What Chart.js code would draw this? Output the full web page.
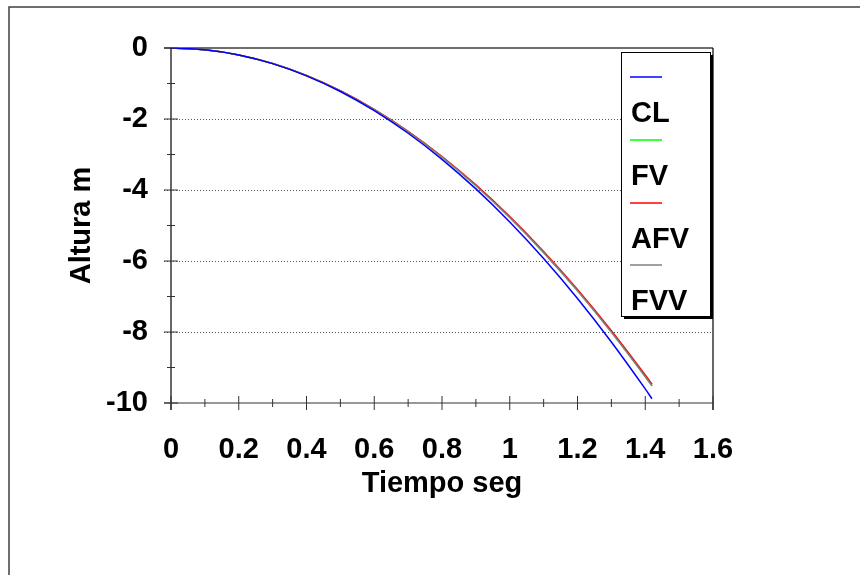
<!DOCTYPE html>
<html lang="es">
<head>
<meta charset="utf-8">
<title>Altura vs tiempo</title>
<script src="https://cdn.jsdelivr.net/npm/chart.js@4.4.1/dist/chart.umd.min.js"></script>
<style>
  html, body { margin:0; padding:0; background:#fff; }
  #wrap { width:860px; height:575px; }
</style>
</head>
<body>
<div id="wrap"><canvas id="chart" width="860" height="575"></canvas></div>
<script>
(function(){
  const FONT = "'Liberation Sans', Arial, Helvetica, sans-serif";

  // datos
  const timeSec   = [0, 0.1, 0.2, 0.3, 0.4, 0.5, 0.6, 0.7, 0.8, 0.9, 1.0, 1.1, 1.2, 1.3, 1.4, 1.42];
  const alturaCL  = [0, -0.049, -0.196, -0.441, -0.784, -1.225, -1.764, -2.401, -3.136, -3.969, -4.900, -5.929, -7.056, -8.281, -9.604, -9.881];
  const alturaFV  = [0, -0.049, -0.195, -0.438, -0.776, -1.209, -1.736, -2.357, -3.070, -3.875, -4.771, -5.757, -6.833, -7.997, -9.249, -9.511];
  const alturaAFV = [0, -0.049, -0.195, -0.437, -0.774, -1.205, -1.729, -2.347, -3.056, -3.857, -4.748, -5.730, -6.802, -7.962, -9.210, -9.470];
  const alturaFVV = [0, -0.049, -0.195, -0.438, -0.777, -1.210, -1.738, -2.360, -3.074, -3.880, -4.777, -5.764, -6.841, -8.006, -9.259, -9.521];

  const seriesNames  = ['CL', 'FV', 'AFV', 'FVV'];
  const seriesColors = ['#0000ff', '#00ff00', '#ff0000', '#808080'];
  const seriesOrder  = [0, 3, 2, 1];

  const xTicks = [0, 0.2, 0.4, 0.6, 0.8, 1.0, 1.2, 1.4, 1.6];
  const xTickLabels = ['0', '0.2', '0.4', '0.6', '0.8', '1', '1.2', '1.4', '1.6'];
  const yTicks = [0, -2, -4, -6, -8, -10];
  const yTickLabels = ['0', '-2', '-4', '-6', '-8', '-10'];

  function pts(arr){ return timeSec.map((t,i)=>({x:t, y:arr[i]})); }

  const seriesData = [alturaCL, alturaFV, alturaAFV, alturaFVV];
  const datasets = seriesNames.map((n,i)=>({
    label: n,
    data: pts(seriesData[i]),
    borderColor: seriesColors[i],
    backgroundColor: seriesColors[i],
    order: seriesOrder[i],
    fill: false
  }));

  const boldFont = { family: FONT, size: 29, weight: 'bold' };

  // marco, rejilla punteada y marcas de ejes
  const framePlugin = {
    id: 'frame',
    beforeDatasetsDraw(chart){
      const {ctx, chartArea:a, scales:{y}} = chart;
      ctx.save();
      ctx.strokeStyle = '#404040'; ctx.lineWidth = 1.5;
      ctx.beginPath(); ctx.moveTo(9, 575); ctx.lineTo(9, 7); ctx.lineTo(860, 7); ctx.stroke();
      ctx.strokeStyle = '#555'; ctx.lineWidth = 1; ctx.setLineDash([1,2]);
      yTicks.forEach(v => {
        if (v === yTicks[0] || v === yTicks[yTicks.length-1]) return;
        const py = Math.round(y.getPixelForValue(v)) + 0.5;
        ctx.beginPath(); ctx.moveTo(164, py); ctx.lineTo(a.right, py); ctx.stroke();
      });
      ctx.setLineDash([]);
      ctx.strokeStyle = '#6e6e6e'; ctx.lineWidth = 2;
      ctx.beginPath(); ctx.moveTo(164, a.top); ctx.lineTo(a.right, a.top); ctx.stroke();
      ctx.restore();
    },
    afterDatasetsDraw(chart){
      const {ctx, chartArea:a, scales:{x,y}} = chart;
      ctx.save();
      ctx.strokeStyle = '#000'; ctx.lineWidth = 1.2;
      ctx.beginPath(); ctx.moveTo(a.left, a.top); ctx.lineTo(a.left, a.bottom + 7); ctx.stroke();
      ctx.beginPath(); ctx.moveTo(a.right, a.top); ctx.lineTo(a.right, a.bottom + 7); ctx.stroke();
      ctx.strokeStyle = '#333'; ctx.lineWidth = 1;
      ctx.beginPath(); ctx.moveTo(164, a.bottom); ctx.lineTo(a.right, a.bottom); ctx.stroke();
      // marcas eje y
      for (let i = 0; i < yTicks.length; i++){
        const py = y.getPixelForValue(yTicks[i]);
        ctx.beginPath(); ctx.moveTo(a.left - 7, py); ctx.lineTo(a.left + 7, py); ctx.stroke();
        if (i < yTicks.length - 1){
          const pm = y.getPixelForValue((yTicks[i] + yTicks[i+1]) / 2);
          ctx.beginPath(); ctx.moveTo(a.left - 4, pm); ctx.lineTo(a.left + 4, pm); ctx.stroke();
        }
      }
      // marcas eje x
      for (let i = 0; i < xTicks.length; i++){
        const px = x.getPixelForValue(xTicks[i]);
        ctx.beginPath(); ctx.moveTo(px, a.bottom - 7); ctx.lineTo(px, a.bottom + 7); ctx.stroke();
        if (i < xTicks.length - 1){
          const pm = x.getPixelForValue((xTicks[i] + xTicks[i+1]) / 2);
          ctx.beginPath(); ctx.moveTo(pm, a.bottom - 4); ctx.lineTo(pm, a.bottom + 4); ctx.stroke();
        }
      }
      ctx.restore();
    },
    afterDraw(chart){
      // leyenda estilo Excel: linea arriba, nombre abajo
      const ctx = chart.ctx;
      const bx = 621, by = 52, bw = 89, bh = 264;
      ctx.save();
      ctx.fillStyle = '#000'; ctx.fillRect(bx + 3, by + 3, bw, bh);
      ctx.fillStyle = '#fff'; ctx.fillRect(bx, by, bw, bh);
      ctx.strokeStyle = '#000'; ctx.lineWidth = 1;
      ctx.strokeRect(bx + 0.5, by + 0.5, bw, bh);
      ctx.font = 'bold 29px ' + FONT;
      ctx.textAlign = 'left'; ctx.textBaseline = 'alphabetic';
      seriesNames.forEach((name, i) => {
        const ly = Math.round(77 + i * 62.8);
        ctx.strokeStyle = seriesColors[i]; ctx.lineWidth = 1.5;
        ctx.beginPath(); ctx.moveTo(630, ly); ctx.lineTo(662, ly); ctx.stroke();
        ctx.fillStyle = '#000';
        ctx.fillText(name, 631, ly + 45);
      });
      ctx.restore();
    }
  };

  new Chart(document.getElementById('chart').getContext('2d'), {
    type: 'line',
    data: { datasets },
    options: {
      responsive: false,
      animation: false,
      layout: { padding: { top: 48, right: 147, left: 0, bottom: 0 } },
      plugins: { legend: { display: false }, tooltip: { enabled: false } },
      elements: { point: { radius: 0 }, line: { borderWidth: 1.5, cubicInterpolationMode: 'monotone' } },
      scales: {
        x: {
          type: 'linear', min: 0, max: 1.6,
          afterFit: s => { s.height = 172; },
          afterBuildTicks: s => { s.ticks = xTicks.map(v => ({ value: v })); },
          grid: { display: false, drawTicks: false },
          border: { display: false },
          ticks: { padding: 30, color: '#000', font: boldFont, maxRotation: 0, autoSkip: false,
                   callback: (v, i) => xTickLabels[i] },
          title: { display: true, text: 'Tiempo seg', color: '#000', font: boldFont, padding: { top: 0, bottom: 74 } }
        },
        y: {
          type: 'linear', min: -10, max: 0,
          afterFit: s => { s.width = 171; },
          afterBuildTicks: s => { s.ticks = yTicks.map(v => ({ value: v })); },
          grid: { display: false, drawTicks: false },
          border: { display: false },
          ticks: { padding: 23, color: '#000', font: boldFont, autoSkip: false,
                   callback: (v, i) => yTickLabels[i] },
          title: { display: true, text: 'Altura m', color: '#000', font: boldFont, padding: { top: 65, bottom: 0 } }
        }
      }
    },
    plugins: [framePlugin]
  });
})();
</script>
</body>
</html>
